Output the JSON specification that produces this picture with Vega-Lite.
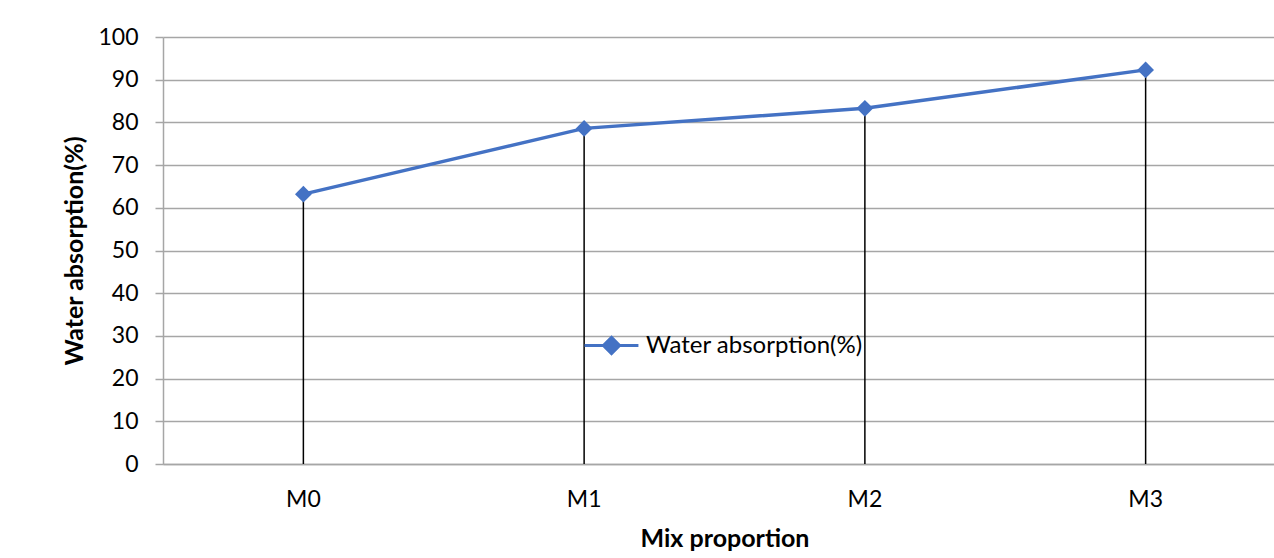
{
  "$schema": "https://vega.github.io/schema/vega-lite/v6.json",
  "autosize": {"type": "none"},
  "width": 1123,
  "height": 427,
  "padding": {"left": 163, "top": 37, "right": 0, "bottom": 94},
  "background": "white",
  "config": {
    "font": "Lato",
    "view": {"stroke": null},
    "axis": {"labelFont": "Lato", "titleFont": "Lato", "labelColor": "#000000", "titleColor": "#000000", "labelFontSize": 23, "titleFontSize": 25, "titleFontWeight": "bold"}
  },
  "data": {"values": [
    {"mix": "M0", "value": 63.2, "series": "Water absorption(%)"},
    {"mix": "M1", "value": 78.6, "series": "Water absorption(%)"},
    {"mix": "M2", "value": 83.3, "series": "Water absorption(%)"},
    {"mix": "M3", "value": 92.3, "series": "Water absorption(%)"}
  ]},
  "encoding": {
    "x": {"field": "mix", "type": "nominal", "sort": null,
      "scale": {"paddingInner": 0, "paddingOuter": 0},
      "axis": {"title": "Mix proportion", "labelAngle": 0, "ticks": false, "labelPadding": 24, "titlePadding": 15, "domainColor": "#A6A6A6", "domainWidth": 1.5}
    },
    "y": {"field": "value", "type": "quantitative",
      "scale": {"domain": [0, 100], "nice": false},
      "axis": {"title": "Water absorption(%)", "values": [0,10,20,30,40,50,60,70,80,90,100], "tickSize": 8, "tickColor": "#A6A6A6", "tickWidth": 1.5, "labelPadding": 17, "titlePadding": 10, "domainColor": "#A6A6A6", "domainWidth": 1.5, "gridColor": "#A6A6A6", "gridWidth": 1.5, "gridOpacity": 1}
    }
  },
  "layer": [
    {
      "mark": {"type": "rule", "color": "#000000", "strokeWidth": 1.5},
      "encoding": {"y": {"datum": 0}, "y2": {"field": "value"}}
    },
    {
      "mark": {"type": "line", "strokeWidth": 3.5},
      "encoding": {
        "color": {"field": "series", "type": "nominal", "scale": {"range": ["#4472C4"]},
          "legend": {"title": null, "orient": "none", "legendX": 420, "legendY": 280, "labelFontSize": 24, "labelFont": "Lato", "labelColor": "#000000", "labelLimit": 0, "symbolType": "M-1,0H1M0,-0.3L0.3,0L0,0.3L-0.3,0Z", "symbolSize": 2900, "symbolStrokeWidth": 3, "symbolFillColor": "#4472C4", "symbolStrokeColor": "#4472C4", "labelOffset": 6}
        }
      }
    },
    {
      "mark": {"type": "point", "shape": "diamond", "filled": true, "size": 280, "opacity": 1},
      "encoding": {
        "color": {"field": "series", "type": "nominal"}
      }
    }
  ]
}
